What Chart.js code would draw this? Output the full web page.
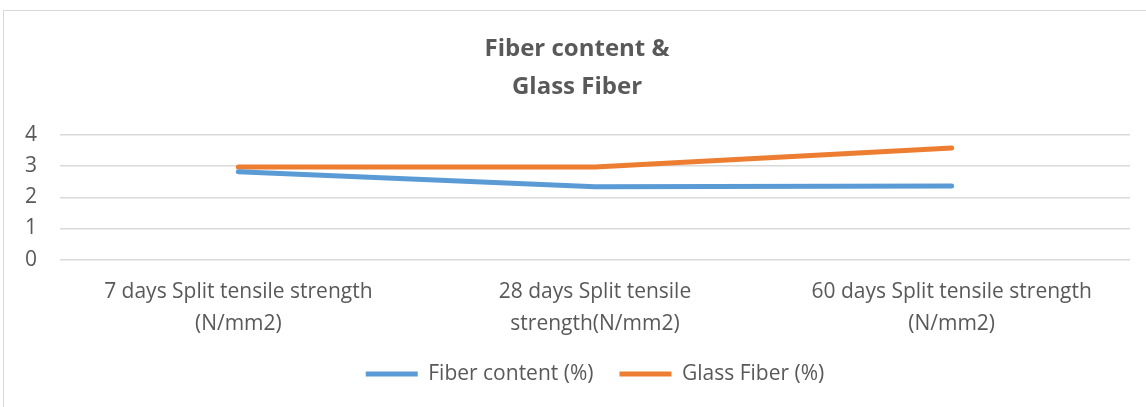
<!DOCTYPE html>
<html>
<head>
<meta charset="utf-8">
<script src="https://cdn.jsdelivr.net/npm/chart.js@4/dist/chart.umd.min.js"></script>
<style>
  html, body { margin: 0; padding: 0; background: #fff; overflow: hidden; }
  #wrap { position: absolute; left: 0; top: 0; width: 1146px; height: 407px; }
  #frame { position: absolute; left: 3px; top: 10px; width: 1160px; height: 420px;
           border: 1px solid #d9d9d9; box-sizing: border-box; }
  canvas { position: absolute; left: 0; top: 0; }
</style>
</head>
<body>
<div id="wrap">
  <div id="frame"></div>
  <canvas id="chart" width="1146" height="407"></canvas>
</div>
<script>
// Split tensile strength results at three curing ages
const categories = [
  ["7 days Split tensile strength", "(N/mm2)"],
  ["28 days Split tensile", "strength(N/mm2)"],
  ["60 days Split tensile strength", "(N/mm2)"]
];
const fiberContent = [2.82, 2.34, 2.36];
const glassFiber = [2.97, 2.97, 3.58];
const yTicks = [0, 1, 2, 3, 4];

const FONT = "'Open Sans', 'Liberation Sans', sans-serif";
const TEXT = '#595959';

new Chart(document.getElementById('chart'), {
  type: 'line',
  data: {
    labels: categories,
    datasets: [
      {
        label: 'Fiber content (%)',
        data: fiberContent,
        borderColor: '#5b9bd5',
        backgroundColor: '#5b9bd5',
        borderWidth: 5,
        borderCapStyle: 'round',
        borderJoinStyle: 'round',
        pointRadius: 0,
        tension: 0
      },
      {
        label: 'Glass Fiber (%)',
        data: glassFiber,
        borderColor: '#ed7d31',
        backgroundColor: '#ed7d31',
        borderWidth: 5,
        borderCapStyle: 'round',
        borderJoinStyle: 'round',
        pointRadius: 0,
        tension: 0
      }
    ]
  },
  options: {
    responsive: false,
    animation: false,
    layout: { padding: { left: 24, right: 16, top: 0, bottom: 12.5 } },
    plugins: {
      title: {
        display: true,
        text: ['Fiber content &', 'Glass Fiber'],
        color: TEXT,
        font: { family: FONT, size: 24, weight: 'bold', lineHeight: 1.58 },
        padding: { top: 30, bottom: 29 }
      },
      legend: {
        position: 'bottom',
        fullSize: false,
        labels: {
          color: TEXT,
          font: { family: FONT, size: 21 },
          usePointStyle: true,
          pointStyle: 'line',
          pointStyleWidth: 52,
          padding: 26
        }
      },
      tooltip: { enabled: false }
    },
    scales: {
      x: {
        offset: true,
        afterFit: (axis) => { axis.height = 77.8; },
        grid: { display: false, drawTicks: false },
        border: { display: false },
        ticks: {
          color: TEXT,
          font: { family: FONT, size: 21, lineHeight: 1.52 },
          padding: 16.3,
          maxRotation: 0,
          autoSkip: false
        }
      },
      y: {
        min: 0,
        max: 4,
        afterBuildTicks: (axis) => { axis.ticks = yTicks.map(v => ({ value: v })); },
        afterFit: (axis) => { axis.width = 36; },
        grid: { color: '#d9d9d9', lineWidth: 1.5, drawTicks: false },
        border: { display: false },
        ticks: {
          color: TEXT,
          font: { family: FONT, size: 21 },
          padding: 23
        }
      }
    }
  }
});
</script>
</body>
</html>
